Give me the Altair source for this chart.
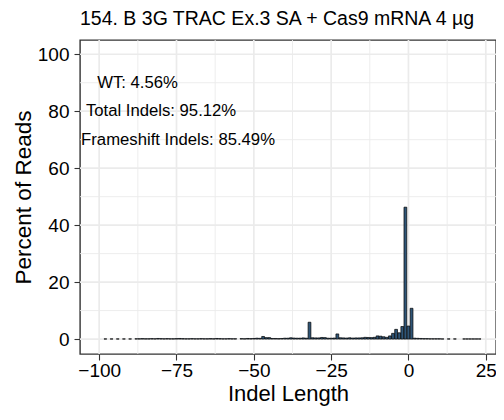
import altair as alt
import pandas as pd

# ---- data ----
indel_lengths = ([-98, -96, -94, -92, -90]
                 + list(range(-88, -55))
                 + list(range(-54, 11))
                 + [11, 13, 15]
                 + list(range(18, 24)))

percent_reads = (
    [0.05, 0.05, 0.05, 0.05, 0.05]
    + [0.1, 0.1, 0.15, 0.1, 0.1, 0.15, 0.1, 0.2, 0.15, 0.1,
       0.15, 0.1, 0.1, 0.15, 0.2, 0.15, 0.1, 0.1, 0.15, 0.1,
       0.1, 0.15, 0.1, 0.1, 0.15, 0.1, 0.2, 0.15, 0.1, 0.1,
       0.15, 0.1, 0.1]
    + [0.15, 0.1, 0.2, 0.15, 0.2, 0.3, 0.25, 0.9, 0.5, 0.5,
       0.2, 0.2, 0.15, 0.2, 0.3, 0.3, 0.45, 0.35, 0.3, 0.3,
       0.4, 0.3, 5.9, 0.45, 0.4, 0.4, 0.55, 0.5, 0.3, 0.3,
       0.35, 1.8, 0.45, 0.4, 0.35, 0.45, 0.35, 0.4, 0.4, 0.45,
       0.6, 0.55, 0.5, 0.6, 1.1, 1.0, 0.8, 0.6, 1.1, 2.0,
       3.4, 2.2, 4.4, 46.3, 4.56, 10.8, 0.3, 0.25, 0.2, 0.15,
       0.15, 0.1, 0.1, 0.1, 0.1]
    + [0.05, 0.05, 0.05]
    + [0.05, 0.05, 0.05, 0.05, 0.05, 0.05]
)

ann_text = ["WT: 4.56%", "Total Indels: 95.12%", "Frameshift Indels: 85.49%"]
ann_x = [-87.6, -80.0, -74.5]
ann_y = [90, 80, 70]

x_major = [-100, -75, -50, -25, 0, 25]
x_minor = [-87.5, -62.5, -37.5, -12.5, 12.5]
y_major = [0, 20, 40, 60, 80, 100]
y_minor = [10, 30, 50, 70, 90]

title_text = "154. B 3G TRAC Ex.3 SA + Cas9 mRNA 4 µg"

df = pd.DataFrame({"len": indel_lengths, "pct": percent_reads})
ann = pd.DataFrame({"x": ann_x, "y": ann_y, "t": ann_text})
gx_major = pd.DataFrame({"v": x_major})
gx_minor = pd.DataFrame({"v": x_minor})
gy_major = pd.DataFrame({"v": y_major})
gy_minor = pd.DataFrame({"v": y_minor})

FONT = "Liberation Sans"
GRID = "#EBEBEB"
DARK = "#333333"

xscale = alt.Scale(domain=[-106.2, 28.3], nice=False, zero=False)
yscale = alt.Scale(domain=[-5.25, 105], nice=False, zero=False)

x_axis = alt.Axis(values=x_major, format="d", grid=False, domain=False,
                  tickColor=DARK, tickSize=6, tickWidth=1.1,
                  labelFontSize=19, labelFont=FONT, labelColor="black",
                  labelPadding=1, titleFontSize=22, titleFont=FONT,
                  titleFontWeight="normal", titleColor="black", titlePadding=3)
y_axis = alt.Axis(values=y_major, format="d", grid=False, domain=False,
                  tickColor=DARK, tickSize=6, tickWidth=1.1,
                  labelFontSize=19, labelFont=FONT, labelColor="black",
                  labelPadding=5, titleFontSize=22.5, titleFont=FONT,
                  titleFontWeight="normal", titleColor="black", titlePadding=2)
X_TITLE = "Indel Length"
Y_TITLE = "Percent of Reads"


def vgrid(data, w):
    return alt.Chart(data).mark_rule(color=GRID, strokeWidth=w).encode(
        x=alt.X("v:Q", scale=xscale, axis=x_axis, title=X_TITLE))


def hgrid(data, w):
    return alt.Chart(data).mark_rule(color=GRID, strokeWidth=w).encode(
        y=alt.Y("v:Q", scale=yscale, axis=y_axis, title=Y_TITLE))


bars = alt.Chart(df).transform_calculate(
    x0="datum.len - 0.45", x1="datum.len + 0.45"
).mark_bar(fill="#2F5577", stroke="black", strokeWidth=0.7).encode(
    x=alt.X("x0:Q", scale=xscale, axis=x_axis, title=X_TITLE),
    x2="x1:Q",
    y=alt.Y("pct:Q", scale=yscale, axis=y_axis, title=Y_TITLE),
    y2=alt.datum(0),
)

texts = alt.Chart(ann).mark_text(font=FONT, fontSize=16.7, color="black",
                                 align="center", baseline="middle").encode(
    x=alt.X("x:Q", scale=xscale, axis=x_axis, title=X_TITLE),
    y=alt.Y("y:Q", scale=yscale, axis=y_axis, title=Y_TITLE),
    text="t:N",
)

chart = alt.layer(
    vgrid(gx_minor, 0.9), hgrid(gy_minor, 0.9),
    vgrid(gx_major, 1.7), hgrid(gy_major, 1.7),
    bars, texts
).properties(
    width=416, height=314,
    title=alt.TitleParams(title_text, anchor="start", frame="group", fontSize=19.5,
                          font=FONT, fontWeight="normal", color="black", offset=10),
    autosize=alt.AutoSizeParams(type="none"),
    padding={"left": 72, "top": 32, "right": 0, "bottom": 52},
    background="white",
).configure_view(
    stroke=DARK, strokeWidth=1.4
)

chart.save("out.html", embed_options={"renderer": "svg", "actions": False})
